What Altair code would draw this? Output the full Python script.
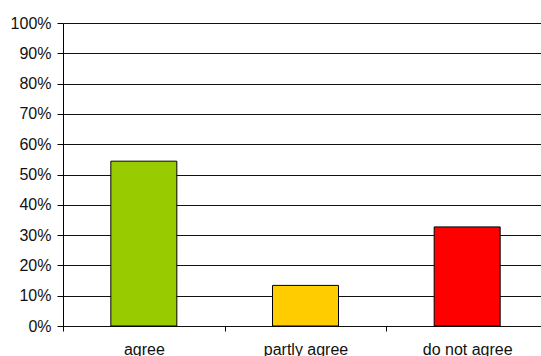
import altair as alt
import pandas as pd

categories = ["agree", "partly agree", "do not agree"]
values = [0.544, 0.134, 0.327]
colors = ["#99CC00", "#FFCC00", "#FF0000"]

df = pd.DataFrame({"cat": categories, "val": values, "color": colors})

chart = alt.Chart(df).mark_bar(width=66, stroke="black", strokeWidth=1).encode(
    x=alt.X("cat:N", sort=categories, title=None,
            scale=alt.Scale(paddingInner=0, paddingOuter=0, range=[0, 485]),
            axis=alt.Axis(labelAngle=0, tickBand="extent", grid=False, domain=False,
                          tickColor="black", tickSize=5, labelPadding=10,
                          labelFont="Liberation Sans", labelFontSize=16,
                          labelColor="#111", labelBaseline="top")),
    y=alt.Y("val:Q", title=None,
            scale=alt.Scale(domain=[0, 1], nice=False),
            axis=alt.Axis(format=".0%", values=[i / 10 for i in range(11)],
                          grid=True, gridColor="#111", gridWidth=1,
                          domainColor="black", tickColor="black", tickSize=6,
                          labelPadding=6, labelFont="Liberation Sans",
                          labelFontSize=16, labelColor="#111")),
    color=alt.Color("color:N", scale=None),
).properties(
    width=478, height=303,
    autosize=alt.AutoSizeParams(type="none"),
    padding={"left": 63, "top": 23, "right": 0, "bottom": 30},
).configure_view(stroke=None).configure(background="white")

chart.save("out.html", embed_options={"renderer": "svg", "actions": False})
